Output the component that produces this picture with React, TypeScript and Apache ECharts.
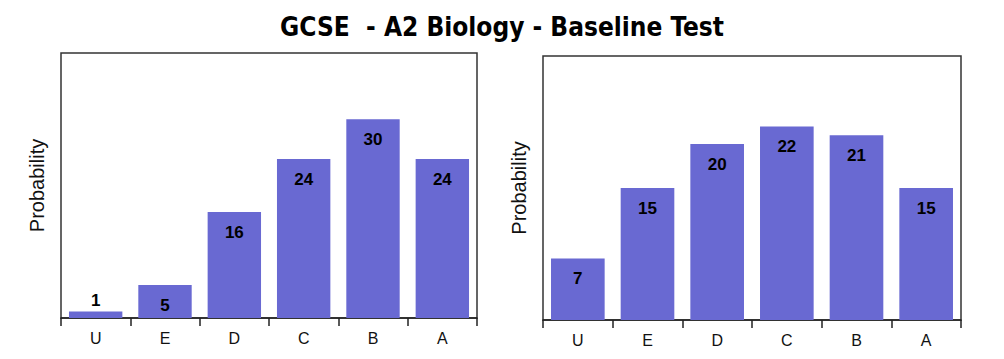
import React, { useEffect, useRef } from "react";
import * as echarts from "echarts";

const titleText = "GCSE  - A2 Biology - Baseline Test";
const grades = ["U", "E", "D", "C", "B", "A"];
const gcseValues = [1, 5, 16, 24, 30, 24];
const a2Values = [7, 15, 20, 22, 21, 15];
const yMaxLeft = 40;
const yMaxRight = 30;
const barColor = "#6969d2";

export default function App() {
  const ref = useRef<HTMLDivElement>(null);
  useEffect(() => {
    document.body.style.margin = "0";
    const chart = echarts.init(ref.current!, undefined, { renderer: "svg" });
    const font = "Liberation Sans, Arial, sans-serif";
    const mkX = (gi: number) => ({
      type: "category" as const,
      gridIndex: gi,
      data: grades,
      axisLine: { lineStyle: { color: "#222", width: 1.5 } },
      axisTick: { show: true, length: 8, lineStyle: { color: "#222", width: 1.5 } },
      axisLabel: { color: "#111", fontSize: 16, fontFamily: font, margin: 12 },
    });
    const mkY = (gi: number, max: number) => ({
      type: "value" as const,
      gridIndex: gi,
      min: 0,
      max,
      name: "Probability",
      nameLocation: "middle" as const,
      nameGap: 14,
      nameTextStyle: { color: "#111", fontSize: 20, fontFamily: font },
      axisLine: { show: false },
      axisTick: { show: false },
      axisLabel: { show: false },
      splitLine: { show: false },
    });
    const mkS = (gi: number, data: number[], max: number) => ({
      type: "bar" as const,
      xAxisIndex: gi,
      yAxisIndex: gi,
      data: data.map((v) =>
        v / max < 0.08
          ? { value: v, label: { position: "top" as const, distance: 2 } }
          : v
      ),
      barCategoryGap: "23%",
      itemStyle: { color: barColor },
      label: {
        show: true,
        position: "insideTop" as const,
        distance: 12,
        color: "#000",
        fontWeight: "bold" as const,
        fontSize: 17,
        fontFamily: font,
      },
    });
    chart.setOption({
      animation: false,
      backgroundColor: "#fff",
      title: {
        text: titleText,
        left: "center",
        top: 9,
        textStyle: { fontSize: 26, fontWeight: "bold", color: "#000", fontFamily: "DejaVu Sans Condensed, DejaVu Sans, sans-serif" },
      },
      grid: [
        { left: 61, top: 53, width: 416, height: 265, show: true, borderColor: "#333", borderWidth: 1.5, backgroundColor: "#fff" },
        { left: 543, top: 56, width: 418, height: 264, show: true, borderColor: "#333", borderWidth: 1.5, backgroundColor: "#fff" },
      ],
      xAxis: [mkX(0), mkX(1)],
      yAxis: [mkY(0, yMaxLeft), mkY(1, yMaxRight)],
      series: [mkS(0, gcseValues, yMaxLeft), mkS(1, a2Values, yMaxRight)],
    });
    return () => chart.dispose();
  }, []);
  return <div ref={ref} style={{ width: 1004, height: 359 }} />;
}
